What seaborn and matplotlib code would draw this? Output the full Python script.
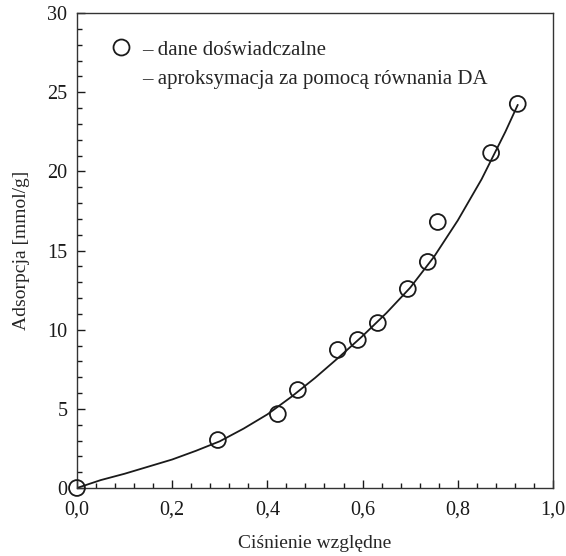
import numpy as np
import pandas as pd
import matplotlib
matplotlib.use('Agg')
import matplotlib.pyplot as plt
from matplotlib.lines import Line2D
from matplotlib.ticker import MultipleLocator, FixedLocator, FixedFormatter
import seaborn as sns

# measured points (relative pressure, adsorption mmol/g)
p_exp = [0.0, 0.296, 0.422, 0.464, 0.548, 0.590, 0.632, 0.695, 0.737, 0.758, 0.870, 0.926]
a_exp = [0.0, 3.03, 4.67, 6.19, 8.72, 9.35, 10.42, 12.57, 14.28, 16.80, 21.16, 24.26]

# DA approximation curve
p_fit = [0.0, 0.05, 0.10, 0.15, 0.20, 0.25, 0.30, 0.35, 0.40, 0.45, 0.50, 0.55,
         0.60, 0.65, 0.70, 0.75, 0.80, 0.85, 0.90, 0.926]
a_fit = [0.0, 0.50, 0.90, 1.35, 1.80, 2.35, 2.95, 3.75, 4.65, 5.75, 6.95, 8.25,
         9.60, 11.05, 12.65, 14.60, 16.90, 19.50, 22.50, 24.20]

x_ticks = [0.0, 0.2, 0.4, 0.6, 0.8, 1.0]
x_tick_labels = ['0,0', '0,2', '0,4', '0,6', '0,8', '1,0']
y_ticks = [0, 5, 10, 15, 20, 25, 30]

exp = pd.DataFrame({'p': p_exp, 'a': a_exp})
fit = pd.DataFrame({'p': p_fit, 'a': a_fit})

sns.set_style('ticks')
plt.rcParams['font.family'] = ['Liberation Serif', 'DejaVu Serif']
plt.rcParams['font.size'] = 14

fig = plt.figure(figsize=(5.66, 5.56), dpi=100)
ax = fig.add_axes([0.136, 0.1223, 0.841, 0.8543])

sns.lineplot(data=fit, x='p', y='a', color='#1a1a1a', linewidth=1.3, ax=ax)
sns.scatterplot(data=exp, x='p', y='a', marker='o', s=130, facecolor='none',
                edgecolor='#1a1a1a', linewidth=1.3, ax=ax, clip_on=False, zorder=3)

ax.set_xlim(0, 1.0)
ax.set_ylim(0, 30)
ax.xaxis.set_major_locator(FixedLocator(x_ticks))
ax.xaxis.set_major_formatter(FixedFormatter(x_tick_labels))
ax.xaxis.set_minor_locator(MultipleLocator(0.04))
ax.yaxis.set_major_locator(FixedLocator(y_ticks))
ax.yaxis.set_minor_locator(MultipleLocator(1))
ax.tick_params(which='major', direction='in', length=6, width=1, labelsize=14.5, colors='#1a1a1a')
ax.tick_params(which='minor', direction='in', length=3.5, width=1, colors='#1a1a1a')
ax.tick_params(axis='x', which='major', pad=9)
ax.tick_params(axis='y', which='major', pad=7)

for s in ax.spines.values():
    s.set_visible(True)
    s.set_linewidth(1.0)
    s.set_color('#333333')

ax.set_xlabel('Ciśnienie względne', fontsize=14, labelpad=11)
ax.set_ylabel('Adsorpcja [mmol/g]', fontsize=14, labelpad=12)

handles = [
    Line2D([], [], linestyle='none', marker='o', markersize=11.5,
           markerfacecolor='none', markeredgecolor='#1a1a1a', markeredgewidth=1.3),
    Line2D([], [], linestyle='none', marker=None),
]
labels = ['– dane doświadczalne', '– aproksymacja za pomocą równania DA']
ax.legend(handles, labels, loc='upper left', bbox_to_anchor=(0.07, 0.943),
          frameon=False, fontsize=15, handlelength=1.0, handletextpad=0.55,
          labelspacing=0.45, borderpad=0, borderaxespad=0)

fig.savefig('out.png', dpi=100)
